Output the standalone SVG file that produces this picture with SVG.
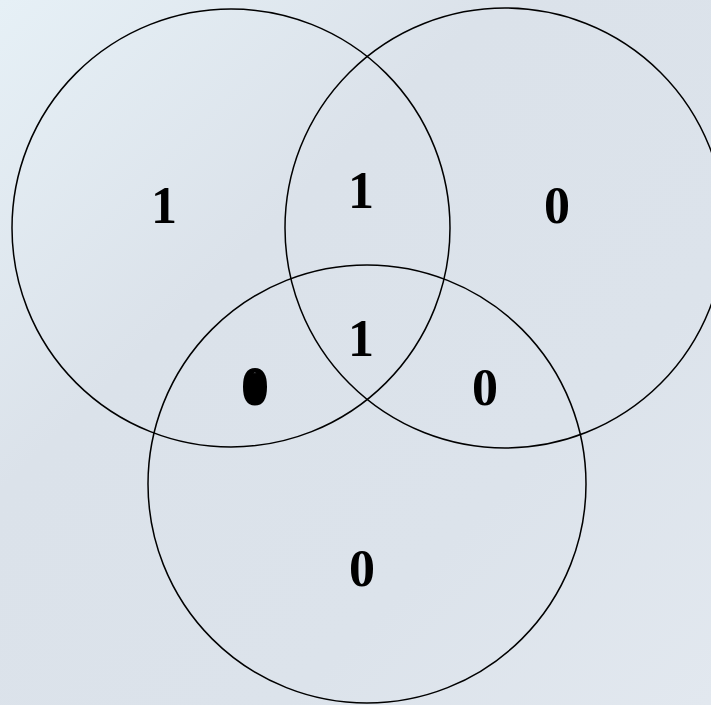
<svg xmlns="http://www.w3.org/2000/svg" width="711" height="705" viewBox="0 0 711 705">
  <defs>
    <linearGradient id="bg" x1="0" y1="0" x2="1" y2="1">
      <stop offset="0" stop-color="#e6f0f6"/>
      <stop offset="0.35" stop-color="#dbe2ea"/>
      <stop offset="0.7" stop-color="#dce3eb"/>
      <stop offset="1" stop-color="#e2e8ef"/>
    </linearGradient>
  </defs>
  <style>
    .ring { fill: none; stroke: #000; stroke-width: 1.5; }
    .num { font-family: "Liberation Serif", "Times New Roman", serif; font-weight: bold; font-size: 52px; fill: #000; text-anchor: middle; }
  </style>
  <rect x="0" y="0" width="711" height="705" fill="url(#bg)"/>
  <g id="set-a"><circle class="ring" cx="231" cy="228" r="219"/></g>
  <g id="set-b"><circle class="ring" cx="505" cy="228" r="220"/></g>
  <g id="set-c"><circle class="ring" cx="367" cy="484" r="219"/></g>
  <g id="labels">
    <text class="num" x="164" y="223">1</text>
    <text class="num" x="361" y="208">1</text>
    <text class="num" x="557" y="223">0</text>
    <text class="num" x="361" y="356">1</text>
    <ellipse cx="255" cy="388" rx="9" ry="15" fill="#000"/>
    <text class="num" x="255" y="404" stroke="#000" stroke-width="2">0</text>
    <text class="num" x="485" y="405">0</text>
    <text class="num" x="362" y="586">0</text>
  </g>
</svg>
